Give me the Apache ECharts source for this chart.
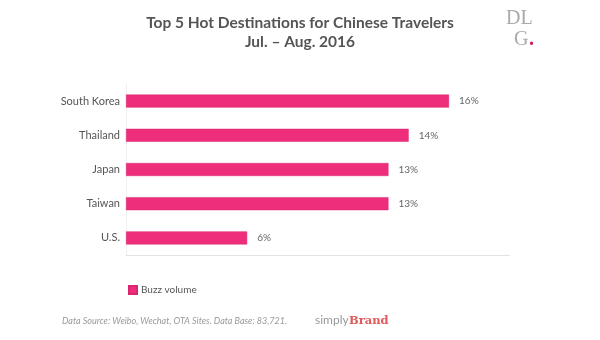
<!DOCTYPE html>
<html><head><meta charset="utf-8">
<script src="https://cdn.jsdelivr.net/npm/echarts@6/dist/echarts.min.js"></script>
<style>html,body{margin:0;padding:0;background:#fff}#c{width:600px;height:340px}</style>
</head><body><div id="c"></div>
<script>
const categories = ['South Korea', 'Thailand', 'Japan', 'Taiwan', 'U.S.'];
const values = [16, 14, 13, 13, 6];
const seriesName = 'Buzz volume';
const titleText = 'Top 5 Hot Destinations for Chinese Travelers';
const subtitleText = 'Jul. – Aug. 2016';
const sourceText = 'Data Source: Weibo, Wechat, OTA Sites. Data Base: 83,721.';

const chart = echarts.init(document.getElementById('c'));
chart.setOption({
  backgroundColor: '#fff',
  animation: false,
  title: [{
    text: titleText + '\n' + subtitleText,
    left: 295, top: 8, textAlign: 'center',
    textStyle: { fontFamily: 'Lato', fontWeight: 'bold', fontSize: 15.5, color: '#555', lineHeight: 19 }
  }],
  graphic: [
    { type: 'text', left: 506, top: 9, style: { text: 'DL', font: '300 20px "Liberation Serif", serif', fill: '#aaa' } },
    { type: 'text', left: 514, top: 30, style: { text: 'G', font: '300 20px "Liberation Serif", serif', fill: '#aaa' } },
    { type: 'text', left: 529, top: 30, style: { text: '.', font: 'bold 20px "Liberation Serif", serif', fill: '#d0205c' } },
    { type: 'text', left: 62, top: 317, style: { text: sourceText, font: 'italic 9px Lato', fill: '#999' } },
    { type: 'text', left: 315, top: 314, style: { text: 'simply', font: '12px Lato', fill: '#999' } },
    { type: 'text', left: 349, top: 315, style: { text: 'Brand', font: 'bold 11.5px "DejaVu Serif", serif', fill: '#e05a5a' } }
  ],
  legend: {
    data: [seriesName], left: 123, top: 280, itemWidth: 8, itemHeight: 8, itemGap: 6,
    icon: 'rect',
    textStyle: { fontFamily: 'Lato', fontSize: 10, color: '#555', padding: [0, 0, 0, -1] }
  },
  grid: { left: 126, top: 84, width: 383.6, height: 171, containLabel: false },
  xAxis: {
    type: 'value', min: 0, max: 19,
    axisLabel: { show: false }, axisTick: { show: false }, splitLine: { show: false },
    axisLine: { show: true, lineStyle: { color: '#e3e3e3', width: 1 } }
  },
  yAxis: {
    type: 'category', data: categories, inverse: true,
    axisTick: { show: false },
    axisLine: { show: true, lineStyle: { color: '#f0f0f0', width: 1 } },
    axisLabel: { fontFamily: 'Lato', fontSize: 11, color: '#555', margin: 6 }
  },
  series: [{
    name: seriesName, type: 'bar', data: values, barWidth: 13,
    itemStyle: { color: '#ee2e7b', borderColor: '#d92670', borderWidth: 0.5 },
    label: { show: true, position: 'right', distance: 10, formatter: '{c}%', fontFamily: 'Lato', fontSize: 10, color: '#666' }
  }]
});
</script></body></html>
